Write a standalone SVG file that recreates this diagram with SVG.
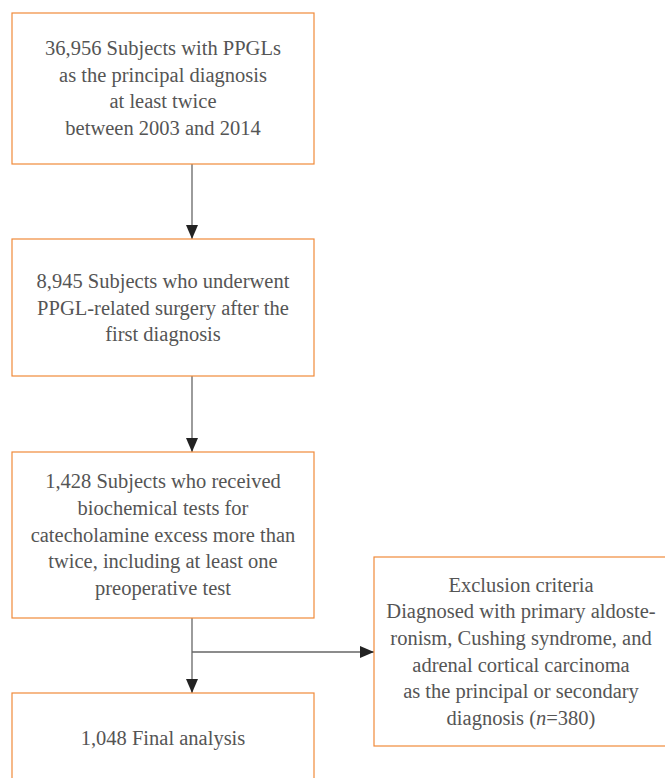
<svg xmlns="http://www.w3.org/2000/svg" width="665" height="778" viewBox="0 0 665 778">
<defs>
<marker id="ah" markerUnits="userSpaceOnUse" markerWidth="14" markerHeight="14" viewBox="0 0 14 14" refX="14" refY="7" orient="auto">
<path d="M0,1 L14,7 L0,13 Z" fill="#222"/>
</marker>
</defs>
<rect width="665" height="778" fill="#fff"/>
<g id="connectors" stroke="#666" stroke-width="1.3" fill="none">
<line x1="192" y1="164" x2="192" y2="239" marker-end="url(#ah)"/>
<line x1="192" y1="376" x2="192" y2="452" marker-end="url(#ah)"/>
<line x1="192" y1="618" x2="192" y2="693" marker-end="url(#ah)"/>
<line x1="192" y1="652" x2="374" y2="652" marker-end="url(#ah)"/>
</g>
<g fill="#fff" stroke="#F08A3A" stroke-width="1.2">
<rect id="r1" x="12" y="13" width="302" height="151"/>
<rect id="r2" x="12" y="239" width="302" height="137"/>
<rect id="r3" x="12" y="452" width="302" height="166"/>
<rect id="r4" x="12" y="693" width="302" height="100"/>
<rect id="r5" x="374" y="557" width="300" height="189"/>
</g>
<g fill="#555" text-anchor="middle">
<g id="n1">
<text x="163" y="55" style="font-family:'Liberation Serif',serif;font-size:20.5px">36,956 Subjects with PPGLs</text>
<text x="163" y="82" style="font-family:'Liberation Serif',serif;font-size:20.5px">as the principal diagnosis</text>
<text x="163" y="108" style="font-family:'Liberation Serif',serif;font-size:20.5px">at least twice</text>
<text x="163" y="135" style="font-family:'Liberation Serif',serif;font-size:20.5px">between 2003 and 2014</text>
</g>
<g id="n2">
<text x="163" y="288" style="font-family:'Liberation Serif',serif;font-size:20.5px">8,945 Subjects who underwent</text>
<text x="163" y="315" style="font-family:'Liberation Serif',serif;font-size:20.5px">PPGL-related surgery after the</text>
<text x="163" y="341" style="font-family:'Liberation Serif',serif;font-size:20.5px">first diagnosis</text>
</g>
<g id="n3">
<text x="163" y="488" style="font-family:'Liberation Serif',serif;font-size:20.5px">1,428 Subjects who received</text>
<text x="163" y="515" style="font-family:'Liberation Serif',serif;font-size:20.5px">biochemical tests for</text>
<text x="163" y="542" style="font-family:'Liberation Serif',serif;font-size:20.5px">catecholamine excess more than</text>
<text x="163" y="568" style="font-family:'Liberation Serif',serif;font-size:20.5px">twice, including at least one</text>
<text x="163" y="595" style="font-family:'Liberation Serif',serif;font-size:20.5px">preoperative test</text>
</g>
<g id="n4">
<text x="163" y="745" style="font-family:'Liberation Serif',serif;font-size:20.5px">1,048 Final analysis</text>
</g>
<g id="n5">
<text x="521" y="592" style="font-family:'Liberation Serif',serif;font-size:20.5px">Exclusion criteria</text>
<text x="521" y="618" style="font-family:'Liberation Serif',serif;font-size:20.5px">Diagnosed with primary aldoste-</text>
<text x="521" y="645" style="font-family:'Liberation Serif',serif;font-size:20.5px">ronism, Cushing syndrome, and</text>
<text x="521" y="672" style="font-family:'Liberation Serif',serif;font-size:20.5px">adrenal cortical carcinoma</text>
<text x="521" y="698" style="font-family:'Liberation Serif',serif;font-size:20.5px">as the principal or secondary</text>
<text x="521" y="725" style="font-family:'Liberation Serif',serif;font-size:20.5px">diagnosis (<tspan font-style="italic">n</tspan>=380)</text>
</g>
</g>
</svg>
